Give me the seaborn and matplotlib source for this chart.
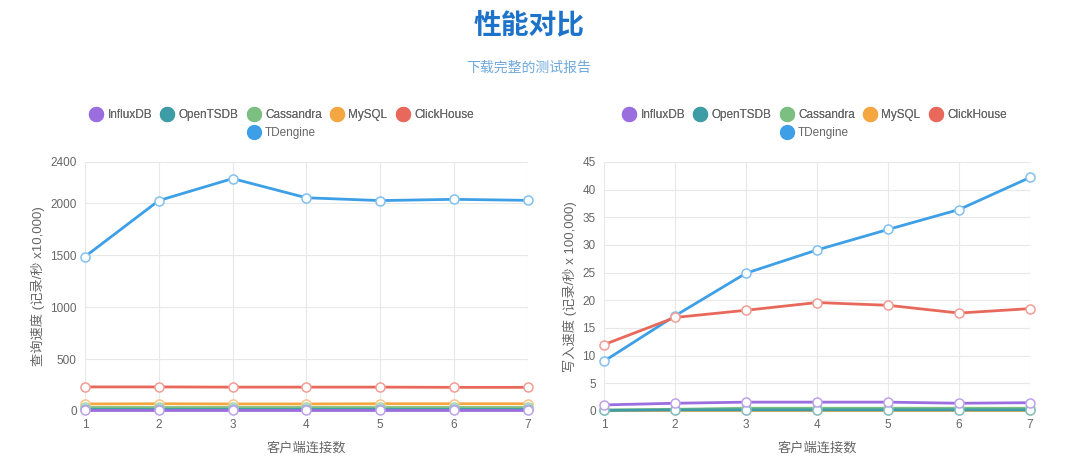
import pandas as pd
import seaborn as sns
import matplotlib.pyplot as plt
from matplotlib.lines import Line2D
from matplotlib.colors import to_rgb

# ---------------------------------------------------------
# data
# ---------------------------------------------------------
clients = [1, 2, 3, 4, 5, 6, 7]
databases = ["InfluxDB", "OpenTSDB", "Cassandra", "MySQL", "ClickHouse", "TDengine"]

# query speed (records/s x 10,000)
query_influx = [5, 5, 5, 5, 5, 5, 5]
query_opentsdb = [22, 22, 22, 22, 22, 22, 22]
query_cassandra = [42, 42, 42, 42, 42, 42, 42]
query_mysql = [68, 70, 68, 68, 70, 70, 70]
query_clickhouse = [232, 232, 230, 230, 230, 228, 228]
query_tdengine = [1488, 2028, 2240, 2055, 2028, 2040, 2030]

# write speed (records/s x 100,000)
write_influx = [1.1, 1.4, 1.6, 1.6, 1.6, 1.4, 1.5]
write_opentsdb = [0.1, 0.2, 0.2, 0.2, 0.2, 0.2, 0.2]
write_cassandra = [0.2, 0.3, 0.5, 0.5, 0.5, 0.5, 0.5]
write_mysql = [0.1, 0.1, 0.1, 0.1, 0.1, 0.1, 0.1]
write_clickhouse = [12.0, 16.9, 18.2, 19.6, 19.1, 17.7, 18.5]
write_tdengine = [9.0, 17.2, 24.9, 29.1, 32.8, 36.4, 42.2]

colors = ["#9b6ee0", "#3d9ca6", "#7dbf80", "#f4a641", "#e8695c", "#3d9fe6"]
palette = dict(zip(databases, colors))


def long_frame(series):
    rows = []
    for name, vals in zip(databases, series):
        for c, v in zip(clients, vals):
            rows.append({"db": name, "clients": c, "value": v})
    return pd.DataFrame(rows)


def lighten(c, f=0.35):
    r, g, b = to_rgb(c)
    return (r + (1 - r) * f, g + (1 - g) * f, b + (1 - b) * f)


df_query = long_frame([query_influx, query_opentsdb, query_cassandra,
                       query_mysql, query_clickhouse, query_tdengine])
df_write = long_frame([write_influx, write_opentsdb, write_cassandra,
                       write_mysql, write_clickhouse, write_tdengine])

sns.set_style("white")
plt.rcParams["font.family"] = ["Liberation Sans", "Noto Sans CJK SC", "DejaVu Sans"]

fig = plt.figure(figsize=(10.8, 4.71), dpi=100)
ax1 = fig.add_axes([0.0787, 0.1274, 0.410, 0.5287])
ax2 = fig.add_axes([0.5593, 0.1274, 0.3944, 0.5287])

grey = "#666666"


def draw(ax, df, ymax, yticks, ylabel):
    sns.lineplot(data=df, x="clients", y="value", hue="db", palette=palette,
                 hue_order=databases, ax=ax, linewidth=2.0, marker="o",
                 markersize=6.5, markerfacecolor="white", markeredgewidth=1.1,
                 legend=False, clip_on=False)
    # white-filled points with a light coloured ring; first series on top
    for i, line in enumerate(ax.lines):
        line.set_markeredgecolor(lighten(line.get_color()))
        line.set_zorder(10 - i)
    ax.set_axisbelow(True)
    ax.set_xlim(1, 7)
    ax.set_ylim(0, ymax)
    ax.set_xticks(clients)
    ax.set_yticks(yticks)
    ax.grid(True, color="#e8e8e8", linewidth=0.8)
    for s in ax.spines.values():
        s.set_visible(False)
    ax.tick_params(axis="both", labelsize=8.5, colors=grey, length=4,
                   color="#e8e8e8", pad=2)
    ax.set_xlabel("客户端连接数", fontsize=9.5, color=grey, labelpad=8)
    ax.set_ylabel(ylabel, fontsize=9.5, color=grey, labelpad=4)


draw(ax1, df_query, 2400, [0, 500, 1000, 1500, 2000, 2400], "查询速度 (记录/秒 x10,000)")
draw(ax2, df_write, 45, list(range(0, 46, 5)), "写入速度 (记录/秒 x 100,000)")

# legends: five items in the first row, TDengine centred in the second
for cx in (282 / 1080, 815 / 1080):
    handles = [Line2D([], [], linestyle="none", marker="o", markersize=10,
                      markerfacecolor=palette[d], markeredgecolor=palette[d], label=d)
               for d in databases]
    leg1 = fig.legend(handles=handles[:5], loc="center", ncol=5,
                      bbox_to_anchor=(cx, 1 - 115 / 471), frameon=False,
                      fontsize=8.5, handletextpad=0.45, columnspacing=0.8,
                      handlelength=1.0, labelcolor=grey)
    fig.add_artist(leg1)
    fig.legend(handles=handles[5:], loc="center", ncol=1,
               bbox_to_anchor=(cx, 1 - 133 / 471), frameon=False,
               fontsize=8.5, handletextpad=0.45, handlelength=1.0, labelcolor=grey)

fig.text(529 / 1080, 1 - 26 / 471, "性能对比", ha="center", va="center",
         fontsize=20, fontweight="bold", color="#1d72c9")
fig.text(529 / 1080, 1 - 68 / 471, "下载完整的测试报告", ha="center", va="center",
         fontsize=10, color="#6fa8dc")

fig.savefig("out.png", dpi=100)
